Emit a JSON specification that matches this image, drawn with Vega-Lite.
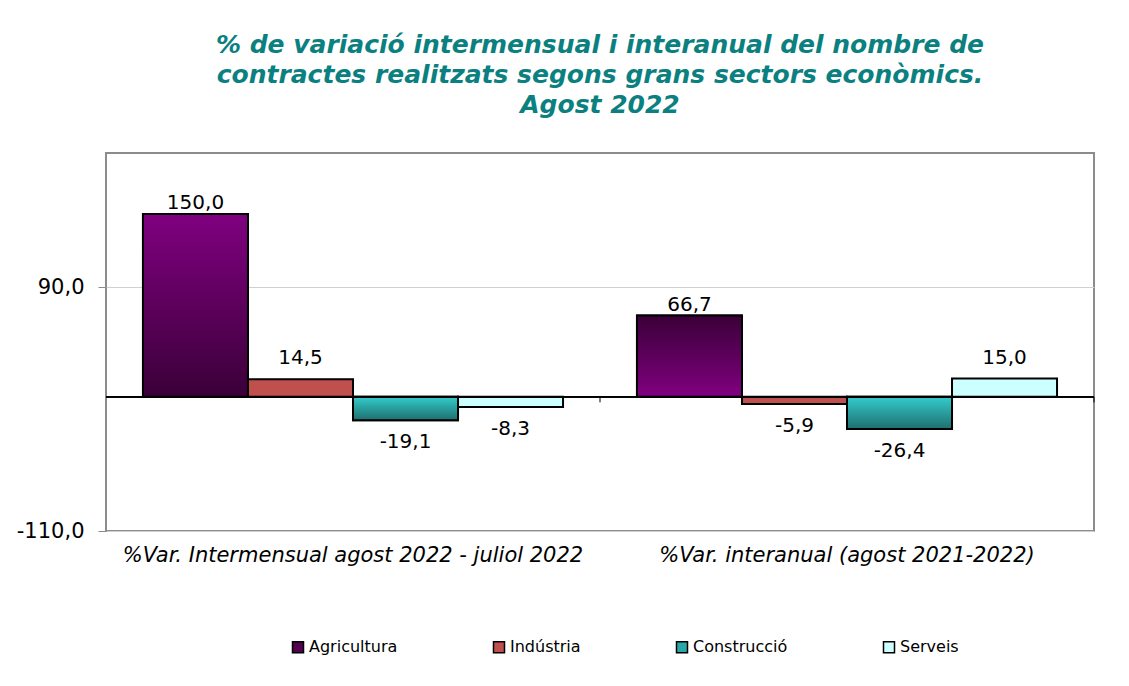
{
  "$schema": "https://vega.github.io/schema/vega-lite/v6.json",
  "width": 988,
  "height": 378,
  "autosize": {"type": "none"},
  "padding": {"left": 106, "top": 153, "right": 35, "bottom": 155},
  "background": "white",
  "config": {
    "view": {"stroke": "#8c8c8c", "strokeWidth": 2},
    "font": "DejaVu Sans"
  },
  "title": {
    "text": ["% de variació intermensual i interanual del nombre de", "contractes realitzats segons grans sectors econòmics.", "Agost 2022"],
    "font": "DejaVu Sans",
    "fontSize": 25,
    "fontStyle": "italic",
    "fontWeight": "bold",
    "color": "#0B8080",
    "anchor": "middle",
    "lineHeight": 30,
    "offset": 35
  },
  "data": {
    "values": [
      {"periode": "%Var. Intermensual agost 2022 - juliol 2022", "sector": "Agricultura", "valor": 150.0},
      {"periode": "%Var. Intermensual agost 2022 - juliol 2022", "sector": "Indústria", "valor": 14.5},
      {"periode": "%Var. Intermensual agost 2022 - juliol 2022", "sector": "Construcció", "valor": -19.1},
      {"periode": "%Var. Intermensual agost 2022 - juliol 2022", "sector": "Serveis", "valor": -8.3},
      {"periode": "%Var. interanual (agost 2021-2022)", "sector": "Agricultura", "valor": 66.7},
      {"periode": "%Var. interanual (agost 2021-2022)", "sector": "Indústria", "valor": -5.9},
      {"periode": "%Var. interanual (agost 2021-2022)", "sector": "Construcció", "valor": -26.4},
      {"periode": "%Var. interanual (agost 2021-2022)", "sector": "Serveis", "valor": 15.0}
    ]
  },
  "layer": [
    {
      "mark": {"type": "bar", "stroke": "black", "strokeWidth": 2},
      "encoding": {
        "x": {
          "field": "periode", "type": "nominal", "sort": null,
          "scale": {"paddingInner": 0, "paddingOuter": 0},
          "axis": {
            "title": null, "labelAngle": 0, "domain": false, "ticks": false,
            "labelFont": "DejaVu Sans", "labelFontSize": 21, "labelFontStyle": "italic",
            "labelColor": "black", "labelPadding": 13, "labelLimit": 600
          }
        },
        "xOffset": {
          "field": "sector", "type": "nominal",
          "sort": ["Agricultura", "Indústria", "Construcció", "Serveis"],
          "scale": {"paddingInner": 0, "paddingOuter": 0.352}
        },
        "y": {
          "field": "valor", "type": "quantitative",
          "scale": {"domain": [-110, 200], "nice": false, "zero": false},
          "axis": {
            "title": null, "values": [-110, 90], "domain": false,
            "grid": true, "gridColor": "#d0d0d0", "gridWidth": 1,
            "tickColor": "#8c8c8c", "tickSize": 8, "tickWidth": 1,
            "labelFont": "DejaVu Sans", "labelFontSize": 21, "labelColor": "black",
            "labelPadding": 14,
            "labelExpr": "replace(replace(format(datum.value, '.1f'), '.', ','), '\u2212', '-')"
          }
        },
        "color": {
          "field": "sector", "type": "nominal",
          "scale": {
            "domain": ["Agricultura", "Indústria", "Construcció", "Serveis"],
            "range": ["#52004f", "#C0504D", "#2AA8A8", "#CCFFFF"]
          },
          "legend": {
            "orient": "none", "legendX": 184, "legendY": 486,
            "direction": "horizontal", "columns": 4, "columnPadding": 92,
            "title": null, "padding": 0,
            "symbolType": "square", "symbolSize": 121,
            "symbolStrokeColor": "black", "symbolStrokeWidth": 1.5,
            "labelFont": "DejaVu Sans", "labelFontSize": 16, "labelColor": "black",
            "labelOffset": 3
          }
        }
      }
    },
    {
      "transform": [{"filter": "datum.sector === 'Agricultura' && datum.valor > 100"}],
      "mark": {
        "type": "bar", "stroke": "black", "strokeWidth": 2,
        "fill": {"gradient": "linear", "x1": 0, "y1": 0, "x2": 0, "y2": 1,
          "stops": [{"offset": 0, "color": "#800080"}, {"offset": 1, "color": "#3a0038"}]}
      },
      "encoding": {
        "x": {"field": "periode", "type": "nominal", "sort": null},
        "xOffset": {"field": "sector", "type": "nominal", "sort": ["Agricultura", "Indústria", "Construcció", "Serveis"]},
        "y": {"field": "valor", "type": "quantitative"}
      }
    },
    {
      "transform": [{"filter": "datum.sector === 'Agricultura' && datum.valor < 100"}],
      "mark": {
        "type": "bar", "stroke": "black", "strokeWidth": 2,
        "fill": {"gradient": "linear", "x1": 0, "y1": 0, "x2": 0, "y2": 1,
          "stops": [{"offset": 0, "color": "#3a0038"}, {"offset": 1, "color": "#800080"}]}
      },
      "encoding": {
        "x": {"field": "periode", "type": "nominal", "sort": null},
        "xOffset": {"field": "sector", "type": "nominal", "sort": ["Agricultura", "Indústria", "Construcció", "Serveis"]},
        "y": {"field": "valor", "type": "quantitative"}
      }
    },
    {
      "transform": [{"filter": "datum.sector === 'Construcció'"}],
      "mark": {
        "type": "bar", "stroke": "black", "strokeWidth": 2,
        "fill": {"gradient": "linear", "x1": 0, "y1": 0, "x2": 0, "y2": 1,
          "stops": [{"offset": 0, "color": "#33CCCC"}, {"offset": 1, "color": "#1F6E6E"}]}
      },
      "encoding": {
        "x": {"field": "periode", "type": "nominal", "sort": null},
        "xOffset": {"field": "sector", "type": "nominal", "sort": ["Agricultura", "Indústria", "Construcció", "Serveis"]},
        "y": {"field": "valor", "type": "quantitative"}
      }
    },
    {
      "mark": {"type": "rule", "color": "black", "strokeWidth": 1},
      "encoding": {"y": {"datum": 0, "type": "quantitative"}}
    },
    {
      "transform": [{"filter": "datum.sector === 'Agricultura'"}],
      "mark": {"type": "rule", "color": "black", "strokeWidth": 1},
      "encoding": {
        "x": {"field": "periode", "type": "nominal", "sort": null, "bandPosition": 1},
        "y": {"datum": 0, "type": "quantitative"},
        "y2": {"datum": -4.5}
      }
    },
    {
      "transform": [
        {"filter": "datum.valor > 40"},
        {"calculate": "replace(replace(format(datum.valor, '.1f'), '.', ','), '\u2212', '-')", "as": "etiqueta"}
      ],
      "mark": {"type": "text", "baseline": "middle", "dy": -11, "fontSize": 20, "font": "DejaVu Sans", "color": "black"},
      "encoding": {
        "x": {"field": "periode", "type": "nominal", "sort": null},
        "xOffset": {"field": "sector", "type": "nominal", "sort": ["Agricultura", "Indústria", "Construcció", "Serveis"]},
        "y": {"field": "valor", "type": "quantitative"},
        "text": {"field": "etiqueta"}
      }
    },
    {
      "transform": [
        {"filter": "datum.valor > 0 && datum.valor <= 40"},
        {"calculate": "replace(replace(format(datum.valor, '.1f'), '.', ','), '\u2212', '-')", "as": "etiqueta"}
      ],
      "mark": {"type": "text", "baseline": "middle", "dy": -21, "fontSize": 20, "font": "DejaVu Sans", "color": "black"},
      "encoding": {
        "x": {"field": "periode", "type": "nominal", "sort": null},
        "xOffset": {"field": "sector", "type": "nominal", "sort": ["Agricultura", "Indústria", "Construcció", "Serveis"]},
        "y": {"field": "valor", "type": "quantitative"},
        "text": {"field": "etiqueta"}
      }
    },
    {
      "transform": [
        {"filter": "datum.valor < 0"},
        {"calculate": "replace(replace(format(datum.valor, '.1f'), '.', ','), '\u2212', '-')", "as": "etiqueta"}
      ],
      "mark": {"type": "text", "baseline": "middle", "dy": 22, "fontSize": 20, "font": "DejaVu Sans", "color": "black"},
      "encoding": {
        "x": {"field": "periode", "type": "nominal", "sort": null},
        "xOffset": {"field": "sector", "type": "nominal", "sort": ["Agricultura", "Indústria", "Construcció", "Serveis"]},
        "y": {"field": "valor", "type": "quantitative"},
        "text": {"field": "etiqueta"}
      }
    }
  ]
}
